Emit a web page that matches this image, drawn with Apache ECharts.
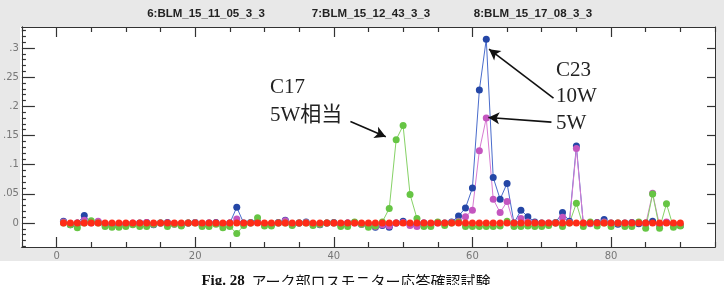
<!DOCTYPE html>
<html>
<head>
    <meta charset="utf-8">
    <title>BLM</title>
    <style>
        html, body { margin: 0; padding: 0; background: #fff; }
        #chart { width: 726px; height: 285px; }
    </style>
</head>
<body>
<div id="chart"></div>
<script src="https://cdn.jsdelivr.net/npm/echarts@6/dist/echarts.min.js"></script>
<script>
    // monitor index 1..90
    var xs = [];
    for (var i = 1; i <= 90; i++) xs.push(i);

    var names = ['6:BLM_15_11_05_3_3', '7:BLM_15_12_43_3_3', '8:BLM_15_17_08_3_3'];

    var blue = [0.003, -0.003, 0.000, 0.013, 0.001, 0.002, -0.002, -0.004, -0.003, -0.002,
        -0.001, 0.000, 0.001, -0.003, 0.000, 0.001, -0.001, -0.003, 0.000, 0.001,
        -0.003, 0.000, 0.001, -0.002, 0.000, 0.027, 0.000, 0.001, 0.002, -0.002,
        -0.003, 0.001, 0.005, -0.003, 0.000, 0.002, -0.001, -0.003, 0.000, 0.001,
        -0.002, 0.000, 0.001, -0.002, -0.004, -0.007, -0.004, -0.007, 0.000, 0.003,
        -0.002, -0.004, 0.000, -0.001, 0.001, 0.000, 0.002, 0.012, 0.026, 0.060,
        0.228, 0.315, 0.078, 0.041, 0.068, 0.000, 0.022, 0.011, 0.002, 0.000,
        -0.001, 0.001, 0.018, 0.003, 0.132, -0.001, 0.000, 0.001, 0.006, 0.000,
        -0.002, 0.000, 0.001, -0.001, 0.000, 0.003, -0.003, 0.001, -0.002, -0.004];

    var magenta = [0.002, -0.002, 0.000, 0.005, 0.000, 0.003, -0.001, -0.003, -0.002, -0.003,
        0.000, -0.001, 0.001, -0.002, 0.000, 0.000, -0.002, -0.004, 0.000, 0.001,
        -0.002, 0.000, 0.000, -0.003, 0.000, 0.007, -0.001, 0.000, 0.001, -0.003,
        -0.002, 0.000, 0.004, -0.002, 0.000, 0.001, -0.003, -0.002, 0.000, 0.000,
        -0.001, 0.000, 0.000, -0.002, -0.004, -0.006, -0.003, -0.005, 0.000, 0.001,
        -0.004, -0.006, 0.000, -0.002, 0.000, -0.001, 0.001, 0.003, 0.011, 0.022,
        0.124, 0.180, 0.041, 0.018, 0.037, -0.003, 0.008, 0.002, 0.000, -0.001,
        0.000, 0.000, 0.010, 0.001, 0.128, 0.000, -0.001, 0.000, 0.002, -0.001,
        0.000, -0.002, 0.000, 0.001, -0.002, 0.051, -0.004, 0.002, -0.003, -0.004];

    var green = [0.000, -0.003, -0.008, 0.000, 0.004, 0.000, -0.006, -0.007, -0.007, -0.006,
        -0.003, -0.006, -0.006, -0.002, 0.000, -0.006, -0.002, -0.005, 0.000, 0.000,
        -0.006, -0.006, -0.002, -0.008, -0.006, -0.018, -0.004, 0.000, 0.009, -0.005,
        -0.005, 0.000, 0.000, -0.004, 0.000, 0.000, -0.004, -0.002, 0.000, 0.000,
        -0.006, -0.006, 0.002, -0.002, -0.007, -0.005, 0.002, 0.025, 0.143, 0.167,
        0.049, 0.008, -0.006, -0.006, 0.002, -0.004, 0.000, 0.002, -0.006, -0.006,
        -0.006, -0.006, -0.006, -0.005, 0.003, -0.006, -0.006, -0.005, -0.006, -0.006,
        -0.004, 0.000, -0.006, 0.000, 0.034, -0.006, 0.002, -0.005, 0.000, -0.006,
        0.000, -0.006, -0.006, 0.002, -0.009, 0.050, -0.009, 0.033, -0.007, -0.005];

    var red = [0.000, 0.000, 0.000, 0.000, 0.000, 0.000, 0.000, 0.000, 0.000, 0.000,
        0.000, 0.000, 0.000, 0.000, 0.000, 0.000, 0.000, 0.000, 0.000, 0.000,
        0.000, 0.000, 0.000, 0.000, 0.000, 0.000, 0.000, 0.000, 0.000, 0.000,
        0.000, 0.000, 0.000, 0.000, 0.000, 0.000, 0.000, 0.000, 0.000, 0.000,
        0.000, 0.000, 0.000, 0.000, 0.000, 0.000, 0.000, 0.000, 0.000, 0.000,
        0.000, 0.000, 0.000, 0.000, 0.000, 0.000, 0.000, 0.000, 0.000, 0.000,
        0.000, 0.000, 0.000, 0.000, 0.000, 0.000, 0.000, 0.000, 0.000, 0.000,
        0.000, 0.000, 0.000, 0.000, 0.000, 0.000, 0.000, 0.000, 0.000, 0.000,
        0.000, 0.000, 0.000, 0.000, 0.000, 0.000, 0.000, 0.000, 0.000, 0.000];

    var xMajor = [0, 20, 40, 60, 80];
    var xMinor = [-5, 5, 10, 15, 25, 30, 35, 45, 50, 55, 65, 70, 75, 85, 90, 95];
    var yMajor = [0, 0.05, 0.1, 0.15, 0.2, 0.25, 0.3];
    var yMinor = [-0.04, -0.03, -0.02, -0.01, 0.01, 0.02, 0.03, 0.04, 0.06, 0.07, 0.08, 0.09,
        0.11, 0.12, 0.13, 0.14, 0.16, 0.17, 0.18, 0.19, 0.21, 0.22, 0.23, 0.24,
        0.26, 0.27, 0.28, 0.29, 0.31, 0.32, 0.33];

    function pairs(vals) {
        return xs.map(function (x, k) { return [x, vals[k]]; });
    }

    var axisCol = '#333';
    function xAx(pos, ticks, len, labels) {
        return {
            type: 'value', position: pos, min: -5, max: 95,
            axisLine: { show: true, onZero: false, lineStyle: { color: axisCol, width: 1 } },
            axisTick: { show: true, inside: true, length: len, customValues: ticks, lineStyle: { color: axisCol, width: 1.2 } },
            axisLabel: labels ? { show: true, customValues: xMajor, color: '#777', fontSize: 10, margin: 4, fontFamily: 'DejaVu Sans' } : { show: false },
            splitLine: { show: false }
        };
    }
    function yAx(pos, ticks, len, labels) {
        return {
            type: 'value', position: pos, min: -0.041, max: 0.336,
            axisLine: { show: true, onZero: false, lineStyle: { color: axisCol, width: 1 } },
            axisTick: { show: true, inside: true, length: len, customValues: ticks, lineStyle: { color: axisCol, width: 1.2 } },
            axisLabel: labels ? {
                show: true, customValues: yMajor, color: '#777', fontSize: 10, margin: 3, fontFamily: 'DejaVu Sans',
                formatter: function (v) { return v === 0 ? '0' : String(+v.toFixed(3)).replace(/^0/, ''); }
            } : { show: false },
            splitLine: { show: false }
        };
    }

    function line(name, vals, col, lineCol) {
        return {
            name: name, type: 'line', data: pairs(vals),
            symbol: 'circle', symbolSize: 7,
            itemStyle: { color: col },
            lineStyle: { color: lineCol, width: 1 },
            animation: false
        };
    }

    var serif = '"Liberation Serif", "Noto Sans CJK JP", serif';
    var headFont = 'bold 11.5px "Liberation Sans", Arial';

    var myChart = echarts.init(document.getElementById('chart'));
    var option = {
        backgroundColor: '#fff',
        animation: false,
        grid: { left: 20, right: 11, top: 27, bottom: 38 },
        xAxis: [
            xAx('bottom', xMajor, 10, true),
            xAx('bottom', xMinor, 5, false),
            xAx('top', xMajor, 10, false),
            xAx('top', xMinor, 5, false)
        ],
        yAxis: [
            yAx('left', yMajor, 13, true),
            yAx('left', yMinor, 4, false),
            yAx('right', yMajor, 8, false)
        ],
        series: [
            line(names[0], blue, '#2446a6', '#4a6ccc'),
            line(names[1], magenta, '#c455bf', '#d77ad2'),
            line(names[2], green, '#66c544', '#86d266'),
            (function () {
                var s = line('ref', red, '#ff2b17', '#ff4a30');
                s.markLine = {
                    silent: true, symbol: ['none', 'arrow'], symbolSize: [9, 11],
                    label: { show: false },
                    lineStyle: { color: '#111', width: 1.6, type: 'solid' },
                    data: [
                        [{ coord: [42.4, 0.174] }, { coord: [47.5, 0.148] }],
                        [{ coord: [71.7, 0.214] }, { coord: [62.4, 0.298] }],
                        [{ coord: [71.4, 0.173] }, { coord: [62.3, 0.181] }]
                    ]
                };
                return s;
            })()
        ],
        graphic: [
            // gray panel and white plot area behind everything
            { type: 'rect', z: -10, silent: true, shape: { x: 0, y: 0, width: 724, height: 261 }, style: { fill: '#e8e8e8' } },
            { type: 'rect', z: -9, silent: true, shape: { x: 20, y: 27, width: 695, height: 220 }, style: { fill: '#fff' } },
            { type: 'text', x: 206, y: 14, style: { text: names[0], font: headFont, fill: '#222', align: 'center', verticalAlign: 'middle' } },
            { type: 'text', x: 371, y: 14, style: { text: names[1], font: headFont, fill: '#222', align: 'center', verticalAlign: 'middle' } },
            { type: 'text', x: 533, y: 14, style: { text: names[2], font: headFont, fill: '#222', align: 'center', verticalAlign: 'middle' } },
            { type: 'text', x: 270, y: 87, style: { text: 'C17', font: '21px ' + serif, fill: '#222', verticalAlign: 'middle' } },
            { type: 'text', x: 270, y: 115, style: { text: '5W相当', font: '21px ' + serif, fill: '#222', verticalAlign: 'middle' } },
            { type: 'text', x: 556, y: 70, style: { text: 'C23', font: '21px ' + serif, fill: '#222', verticalAlign: 'middle' } },
            { type: 'text', x: 556, y: 96, style: { text: '10W', font: '21px ' + serif, fill: '#222', verticalAlign: 'middle' } },
            { type: 'text', x: 556, y: 123, style: { text: '5W', font: '21px ' + serif, fill: '#222', verticalAlign: 'middle' } },
            {
                type: 'text', x: 346, y: 281,
                style: {
                    text: '{a|Fig. 28}  {b|アーク部ロスモニター応答確認試験}',
                    align: 'center', verticalAlign: 'middle',
                    rich: {
                        a: { font: 'bold 15px "Liberation Serif", serif', fill: '#111' },
                        b: { font: '15px "Noto Sans CJK JP", sans-serif', fill: '#111' }
                    }
                }
            }
        ]
    };
    myChart.setOption(option);
</script>
</body>
</html>
